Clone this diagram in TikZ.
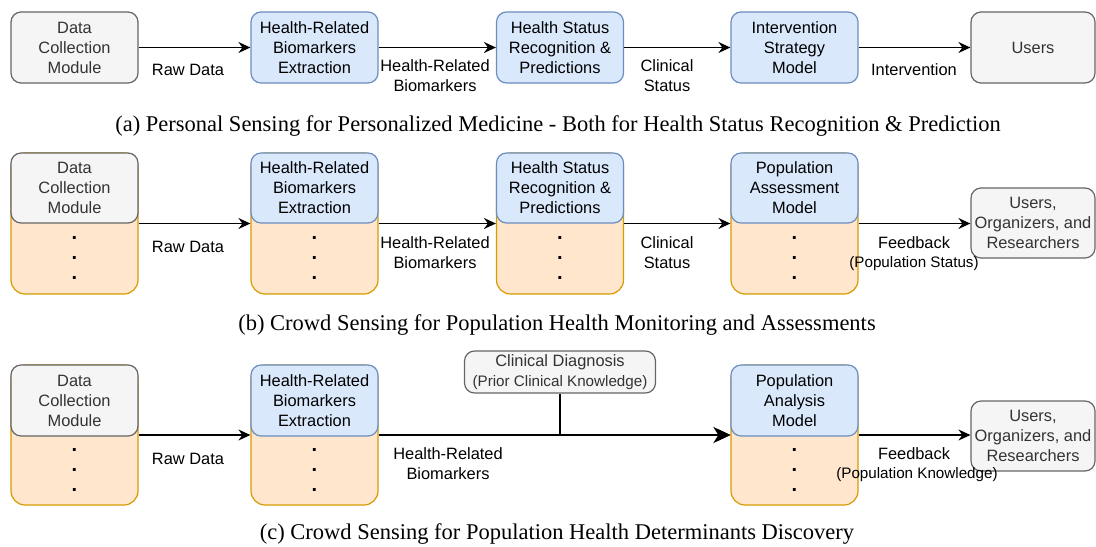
\documentclass[tikz,border=0pt]{standalone}
\usepackage{fontspec}
\setmainfont{Liberation Sans}
\newfontfamily\capfont{Liberation Serif}
\usetikzlibrary{arrows.meta}

\definecolor{greyfill}{HTML}{F5F5F5}
\definecolor{greyline}{HTML}{666666}
\definecolor{greytext}{HTML}{333333}
\definecolor{bluefill}{HTML}{DAE8FC}
\definecolor{blueline}{HTML}{6C8EBF}
\definecolor{orangefill}{HTML}{FFE6CC}
\definecolor{orangeline}{HTML}{D79B00}

\newcommand{\parenfont}{\fontsize{7.6}{10}\selectfont}

\begin{document}
\begin{tikzpicture}[x=0.5pt, y=-0.5pt,
  every node/.style={font=\fontsize{8.2}{10}\selectfont},
  greybox/.style={draw=greyline, fill=greyfill, text=greytext, rounded corners=5pt, minimum width=63.5pt, minimum height=35.5pt, align=center, inner sep=0pt, line width=0.6pt},
  bluebox/.style={draw=blueline, fill=bluefill, rounded corners=5pt, minimum width=63.5pt, minimum height=35.5pt, align=center, inner sep=0pt, line width=0.6pt},
  lowbox/.style={draw=orangeline, fill=orangefill, rounded corners=7pt, minimum width=63.5pt, minimum height=70.5pt, inner sep=0pt, line width=0.6pt},
  dotcol/.style={align=center, inner sep=0pt, font=\fontsize{10}{10}\selectfont\bfseries},
  elabel/.style={align=center, inner sep=0pt},
  subcap/.style={font=\capfont\fontsize{11.25}{13}\selectfont, inner sep=0pt},
  flow/.style={-{Stealth[length=6pt, width=5.5pt, inset=2pt]}, line width=0.65pt},
  bigflow/.style={-{Stealth[length=8.5pt, width=8pt, inset=2.5pt]}, line width=1.3pt},
]
\useasboundingbox (0,0) rectangle (1096,546);

%(a) personal sensing
\node[greybox] (dcA) at (74.5,47.5) {Data\\Collection\\Module};
\node[bluebox] (hrA) at (314.5,47.5) {Health-Related\\Biomarkers\\Extraction};
\node[bluebox] (hsA) at (560,47.5) {Health Status\\Recognition \&\\Predictions};
\node[bluebox] (isA) at (794.5,47.5) {Intervention\\Strategy\\Model};
\node[greybox, minimum width=62pt] (usA) at (1033,47.5) {Users};

\draw[flow] (dcA) -- (hrA);
\draw[flow] (hrA) -- (hsA);
\draw[flow] (hsA) -- (isA);
\draw[flow] (isA) -- (usA);

\node[elabel] (rawA) at (188,70) {Raw Data};
\node[elabel] (bioA) at (435,76) {Health-Related\\Biomarkers};
\node[elabel] (clinA) at (667,76) {Clinical\\Status};
\node[elabel] (intA) at (914,70) {Intervention};

\node[subcap] (capA) at (558,126) {(a) Personal Sensing for Personalized Medicine - Both for Health Status Recognition \& Prediction};

%(b) crowd sensing, monitoring
\node[lowbox] (dcBlow) at (74.5,223.5) {};
\node[lowbox] (hrBlow) at (314.5,223.5) {};
\node[lowbox] (hsBlow) at (560,223.5) {};
\node[lowbox] (paBlow) at (794.5,223.5) {};
\node[greybox, minimum height=35pt] (dcB) at (74.5,188) {Data\\Collection\\Module};
\node[bluebox, minimum height=35pt] (hrB) at (314.5,188) {Health-Related\\Biomarkers\\Extraction};
\node[bluebox, minimum height=35pt] (hsB) at (560,188) {Health Status\\Recognition \&\\Predictions};
\node[bluebox, minimum height=35pt] (paB) at (794.5,188) {Population\\Assessment\\Model};
\node[greybox, minimum width=62pt, minimum height=35pt] (usB) at (1033,223) {Users,\\Organizers, and\\Researchers};

\node[dotcol] (dotsB1) at (74.5,258) {.\\.\\.};
\node[dotcol] (dotsB2) at (314.5,258) {.\\.\\.};
\node[dotcol] (dotsB3) at (560,258) {.\\.\\.};
\node[dotcol] (dotsB4) at (794.5,258) {.\\.\\.};

\draw[flow] (dcBlow) -- (hrBlow);
\draw[flow] (hrBlow) -- (hsBlow);
\draw[flow] (hsBlow) -- (paBlow);
\draw[flow] (paBlow.east) -- (paBlow.east -| usB.west);

\node[elabel] (rawB) at (188,247) {Raw Data};
\node[elabel] (bioB) at (435,253) {Health-Related\\Biomarkers};
\node[elabel] (clinB) at (667,253) {Clinical\\Status};
\node[elabel] (fbB) at (914,243) {Feedback};
\node[elabel, font=\parenfont] (fsB) at (914,264) {(Population Status)};

\node[subcap] (capB) at (557,325) {(b) Crowd Sensing for Population Health Monitoring and Assessments};

%(c) crowd sensing, discovery
\node[lowbox, minimum height=70pt] (dcClow) at (74.5,435) {};
\node[lowbox, minimum height=70pt] (hrClow) at (314.5,435) {};
\node[lowbox, minimum height=70pt] (paClow) at (794.5,435) {};
\node[greybox] (dcC) at (74.5,400.5) {Data\\Collection\\Module};
\node[bluebox] (hrC) at (314.5,400.5) {Health-Related\\Biomarkers\\Extraction};
\node[bluebox] (paC) at (794.5,400.5) {Population\\Analysis\\Model};
\node[greybox, minimum width=95.5pt, minimum height=21pt] (cdC) at (560,372) {Clinical Diagnosis\\{\parenfont (Prior Clinical Knowledge)}};
\node[greybox, minimum width=62pt, minimum height=35pt] (usC) at (1033,436) {Users,\\Organizers, and\\Researchers};

\node[dotcol] (dotsC1) at (74.5,470) {.\\.\\.};
\node[dotcol] (dotsC2) at (314.5,470) {.\\.\\.};
\node[dotcol] (dotsC3) at (794.5,470) {.\\.\\.};

\draw[flow] (dcClow) -- (hrClow);
\draw[flow] (hrClow) -- (paClow);
\draw[line width=0.65pt] (cdC.south) -- (cdC.south |- paClow.west) coordinate (jnC);
\draw[bigflow] (jnC) -- (paClow.west);
\draw[flow] (paClow.east) -- (paClow.east -| usC.west);

\node[elabel] (rawC) at (188,459) {Raw Data};
\node[elabel] (bioC) at (448,464) {Health-Related\\Biomarkers};
\node[elabel] (fbC) at (914,454) {Feedback};
\node[elabel, font=\parenfont] (fkC) at (917,475) {(Population Knowledge)};

\node[subcap] (capC) at (557,534) {(c) Crowd Sensing for Population Health Determinants Discovery};

\end{tikzpicture}
\end{document}
